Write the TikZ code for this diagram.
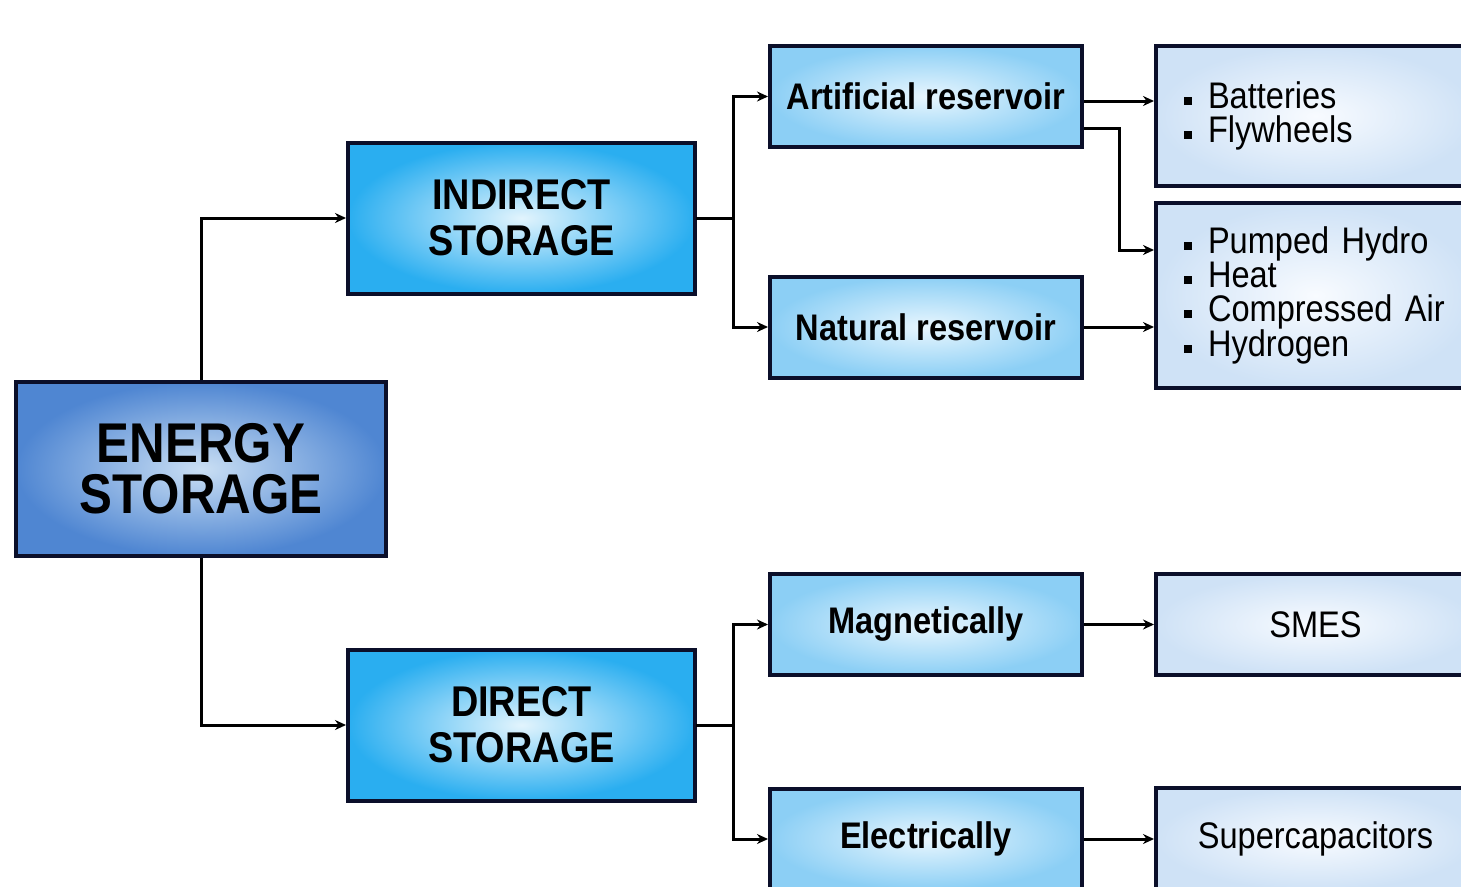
\documentclass[tikz,border=0pt]{standalone}
\usepackage{fontspec}
\setmainfont{Liberation Sans}
\newfontfamily\cond[FakeStretch=0.88]{Liberation Sans}
\usetikzlibrary{arrows.meta,shadings}
\definecolor{edge}{HTML}{0B0F2A}
\definecolor{esout}{HTML}{4F86D2}
\definecolor{esin}{HTML}{CADFF4}
\definecolor{l2out}{HTML}{2AAEF0}
\definecolor{l2in}{HTML}{E2F4FD}
\definecolor{l3out}{HTML}{8CCFF5}
\definecolor{l3in}{HTML}{E8F6FE}
\definecolor{l4out}{HTML}{CFE2F6}
\definecolor{l4in}{HTML}{F8FBFF}
\newcommand\bul{\rule[0.1em]{8pt}{8pt}\hspace{16pt}}
\begin{document}
\begin{tikzpicture}[x=1pt,y=-1pt,
  base/.style={draw=edge,line width=4pt,rectangle,inner sep=0pt,align=center,text=black},
  topbox/.style={base,inner color=esin,outer color=esout,minimum width=370pt,minimum height=174pt,
    font=\cond\bfseries\fontsize{56}{51}\selectfont},
  midbox/.style={base,inner color=l2in,outer color=l2out,minimum width=347pt,minimum height=151pt,
    font=\cond\bfseries\fontsize{43}{46}\selectfont},
  subbox/.style={base,inner color=l3in,outer color=l3out,minimum width=312pt,minimum height=101pt,
    font=\cond\bfseries\fontsize{37}{40}\selectfont},
  leafbox/.style={base,inner color=l4in,outer color=l4out,minimum width=319pt,
    font=\cond\fontsize{37}{34}\selectfont},
  link/.style={line width=3pt,line cap=rect},
  conn/.style={link,line cap=butt,-{Stealth[length=11pt,width=10pt]}},
]
\clip (0,0) rectangle (1461,886);
\fill[white] (0,0) rectangle (1461,886);

\node[topbox] (es) at (201,469) {ENERGY\\STORAGE};
\node[midbox] (ind) at (521.5,218) {INDIRECT\\STORAGE};
\node[midbox] (dir) at (521.5,725) {DIRECT\\STORAGE};

\node[subbox] (art) at (926,96.5) {Artificial reservoir};
\node[subbox] (nat) at (926,327) {Natural reservoir};
\node[subbox] (mag) at (926,624.5) {Magnetically};
\node[subbox] (ele) at (926,839) {Electrically};

\node[leafbox,minimum height=140pt,text width=263pt,align=left] (bat) at (1315.5,116)
  {\bul Batteries\\\bul Flywheels};
\node[leafbox,minimum height=185pt,text width=263pt,align=left] (pum) at (1315.5,295.5)
  {\bul Pumped Hydro\\\bul Heat\\\bul Compressed Air\\\bul Hydrogen};
\node[leafbox,minimum height=101pt] (sme) at (1315.5,624.5) {SMES};
\node[leafbox,minimum height=102pt] (sup) at (1315.5,839) {Supercapacitors};

\draw[conn] (es.north) |- (ind.west);
\draw[conn] (es.south) |- (dir.west);

\draw[link] (ind.east) -- ++(36,0) coordinate (j1);
\draw[conn] (j1) |- (art.west);
\draw[conn] (j1) |- (nat.west);

\draw[link] (dir.east) -- ++(36,0) coordinate (j2);
\draw[conn] (j2) |- (mag.west);
\draw[conn] (j2) |- (ele.west);

\draw[conn] ([yshift=-4.5pt]art.east) -- ([yshift=-4.5pt]art.east -| bat.west);
\draw[conn] ([yshift=-31.5pt]art.east) -- ++(35,0) |- ([yshift=45.5pt]pum.west);
\draw[conn] (nat.east) -- (nat.east -| pum.west);
\draw[conn] (mag.east) -- (sme.west);
\draw[conn] (ele.east) -- (sup.west);
\end{tikzpicture}
\end{document}
